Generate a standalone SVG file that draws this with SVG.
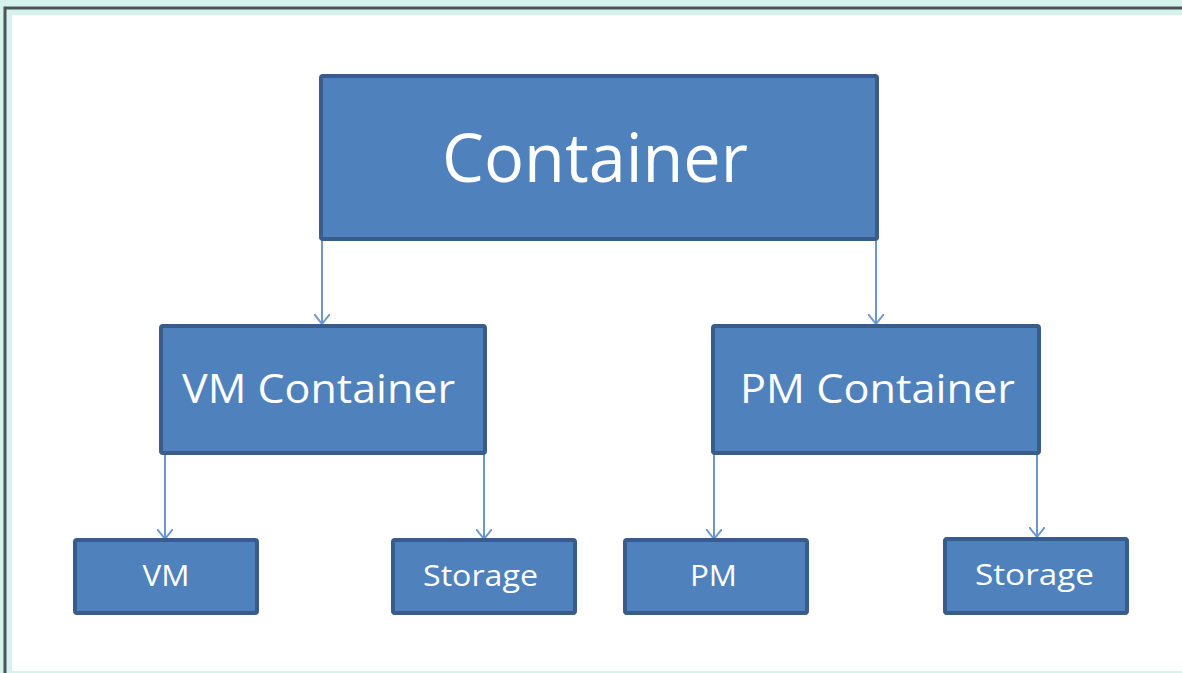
<svg xmlns="http://www.w3.org/2000/svg" width="1182" height="673" viewBox="0 0 1182 673">
  <style>
    .box { fill: #4f81bd; stroke: #385d8a; stroke-width: 4; }
    .lbl { fill: #ffffff; font-family: "Open Sans", "Noto Sans", sans-serif; font-weight: 500; text-anchor: middle; }
    .link { stroke: #6a97d2; stroke-width: 2; fill: none; marker-end: url(#arrow); }
  </style>
  <defs>
    <marker id="arrow" markerUnits="userSpaceOnUse" markerWidth="22" markerHeight="16" refX="10" refY="8" orient="auto">
      <path d="M0,0 L10,8 L0,16" fill="none" stroke="#6a97d2" stroke-width="2"/>
    </marker>
  </defs>

  <!-- page frame -->
  <rect x="0" y="0" width="1182" height="673" fill="#d5f3ea"/>
  <path d="M5,673 V8 H1182" fill="none" stroke="#4d5458" stroke-width="3"/>
  <rect x="12" y="15" width="1170" height="656" fill="#ffffff"/>

  <g id="connectors">
    <line class="link" x1="322" y1="240" x2="322" y2="324"/>
    <line class="link" x1="876" y1="240" x2="876" y2="324"/>
    <line class="link" x1="165" y1="454" x2="165" y2="539"/>
    <line class="link" x1="484" y1="454" x2="484" y2="539"/>
    <line class="link" x1="714" y1="454" x2="714" y2="539"/>
    <line class="link" x1="1037" y1="454" x2="1037" y2="537"/>
  </g>

  <g id="container">
    <rect class="box" x="321" y="76" width="556" height="163" rx="2"/>
    <text class="lbl" x="595" y="182" font-size="67" textLength="306" lengthAdjust="spacingAndGlyphs">Container</text>
  </g>
  <g id="vm-container">
    <rect class="box" x="161" y="326" width="324" height="127" rx="2"/>
    <text class="lbl" x="318.5" y="403" font-size="41" textLength="273" lengthAdjust="spacingAndGlyphs">VM Container</text>
  </g>
  <g id="pm-container">
    <rect class="box" x="713" y="326" width="326" height="127" rx="2"/>
    <text class="lbl" x="877.5" y="403" font-size="41" textLength="275" lengthAdjust="spacingAndGlyphs">PM Container</text>
  </g>
  <g id="vm">
    <rect class="box" x="75" y="540" width="182" height="73" rx="2"/>
    <text class="lbl" x="166" y="586" font-size="30" textLength="47" lengthAdjust="spacingAndGlyphs">VM</text>
  </g>
  <g id="vm-storage">
    <rect class="box" x="393" y="540" width="182" height="73" rx="2"/>
    <text class="lbl" x="480.5" y="586" font-size="30" textLength="115" lengthAdjust="spacingAndGlyphs">Storage</text>
  </g>
  <g id="pm">
    <rect class="box" x="625" y="540" width="182" height="73" rx="2"/>
    <text class="lbl" x="713.5" y="586" font-size="30" textLength="47" lengthAdjust="spacingAndGlyphs">PM</text>
  </g>
  <g id="pm-storage">
    <rect class="box" x="945" y="539" width="182" height="74" rx="2"/>
    <text class="lbl" x="1034.5" y="585" font-size="30" textLength="119" lengthAdjust="spacingAndGlyphs">Storage</text>
  </g>
</svg>
